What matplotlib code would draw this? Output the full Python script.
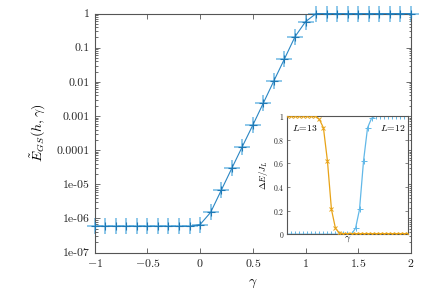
import numpy as np
import matplotlib
matplotlib.use("Agg")
import matplotlib.pyplot as plt
from matplotlib.ticker import FixedLocator, LogLocator, NullFormatter, NullLocator

plt.rcParams['mathtext.fontset'] = 'cm'
plt.rcParams['axes.unicode_minus'] = True

# main curve: E_GS(h, gamma)
gamma = np.round(np.arange(-1.0, 2.01, 0.1), 2)
egs = [5.8e-7] * 10 + [6.6e-7, 1.5e-6, 6.6e-6, 2.9e-5, 1.26e-4, 5.4e-4,
                        2.4e-3, 1.07e-2, 4.7e-2, 0.21, 0.58] + [1.0] * 10

# inset: Delta E / J_L for L=13 and L=12
gam_in = np.round(np.arange(0.0, 3.01, 0.1), 2)
de13 = [1.0] * 8 + [0.97, 0.9, 0.62, 0.21, 0.05, 0.01] + [0.005] * 17
de12 = [0.0] * 17 + [0.05, 0.21, 0.62, 0.9, 0.98] + [1.0] * 9

xticks = [-1, -0.5, 0, 0.5, 1, 1.5, 2]
xlabels = ['$-1$', '$-0.5$', '$0$', '$0.5$', '$1$', '$1.5$', '$2$']
yticks = [1e-7, 1e-6, 1e-5, 1e-4, 1e-3, 1e-2, 1e-1, 1]
ylabels = ['1e-07', '1e-06', '1e-05', '0.0001', '0.001', '0.01', '0.1', '1']
inticks = [0, 0.2, 0.4, 0.6, 0.8, 1]
inlabels = ['$0$', '$0.2$', '$0.4$', '$0.6$', '$0.8$', '$1$']

spine = '#555555'
fig = plt.figure(figsize=(4.36, 2.95), dpi=100)
ax = fig.add_axes([0.217, 0.144, 0.7257, 0.810])

ax.plot(gamma, egs, '-', color='#2a86c4', lw=0.8, zorder=3, clip_on=False)
ax.plot(gamma, egs, '+', color='#5aaee0', ms=11, mew=1.2, alpha=0.8, zorder=2, clip_on=False)
ax.plot(gamma, egs, '+', color='#1f78b4', ms=6, mew=0.8, zorder=4, clip_on=False)
ax.set_yscale('log')
ax.set_xlim(-1, 2)
ax.set_ylim(1e-7, 1)
ax.set_xticks(xticks)
ax.set_xticklabels(xlabels, fontsize=8.5)
ax.yaxis.set_major_locator(FixedLocator(yticks))
ax.set_yticklabels(ylabels, fontsize=8.5, family='cmr10')
ax.yaxis.set_minor_locator(LogLocator(base=10, subs=np.arange(2, 10), numticks=20))
ax.yaxis.set_minor_formatter(NullFormatter())
ax.tick_params(which='both', direction='in', top=True, right=True, colors=spine,
               labelcolor='#222222', width=0.6)
ax.tick_params(which='major', length=3.5)
ax.tick_params(which='minor', length=1.8)
for s in ax.spines.values():
    s.set_color(spine)
    s.set_linewidth(0.8)
ax.set_xlabel(r'$\gamma$', fontsize=10, labelpad=4)
ax.set_ylabel(r'$\tilde{E}_{GS}(h,\gamma)$', fontsize=10, labelpad=6)

# inset
ins = fig.add_axes([0.659, 0.206, 0.276, 0.401])
ins.plot(gam_in, de13, '-', color='#e8a317', lw=0.9, marker='x', ms=3.5, mew=0.7, zorder=3)
ins.plot(gam_in, de12, '-', color='#62b8e8', lw=0.9, marker='+', ms=4.5, mew=0.7, zorder=2)
ins.set_xlim(0, 3)
ins.set_ylim(0, 1)
ins.xaxis.set_major_locator(NullLocator())
ins.set_yticks(inticks)
ins.set_yticklabels(inlabels, fontsize=5.5)
ins.tick_params(which='both', direction='in', right=True, colors=spine,
                labelcolor='#222222', width=0.5, length=2.5, pad=2)
for s in ins.spines.values():
    s.set_color(spine)
    s.set_linewidth(0.8)
ins.set_xlabel(r'$\gamma$', fontsize=7, labelpad=0)
ins.set_ylabel(r'$\Delta E/J_L$', fontsize=6.5, labelpad=2)
ins.text(0.04, 0.87, r'$L\!=\!13$', transform=ins.transAxes, fontsize=7)
ins.text(0.77, 0.87, r'$L\!=\!12$', transform=ins.transAxes, fontsize=7)

fig.savefig('out.png', dpi=100)
